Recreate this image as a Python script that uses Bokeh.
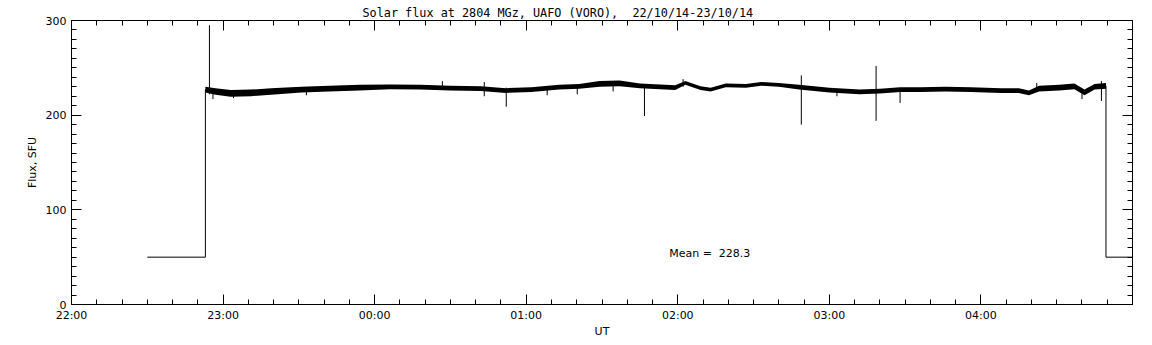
import pandas as pd
from bokeh.plotting import figure
from bokeh.models import (FixedTicker, DatetimeTickFormatter, LinearAxis, DatetimeAxis,
                          Range1d, Label, ColumnDataSource, CustomJSTickFormatter)
from bokeh.embed import file_html
from bokeh.resources import INLINE

# --- data (minutes after 22:00 UT on 22/10/14) ---
trace_min = [53, 57, 63, 71, 79, 91, 102, 114, 126, 138, 150, 162, 172, 182, 193, 201,
             209, 217, 225, 233, 239, 243, 249, 253, 259, 267, 273, 280, 288, 300, 312,
             320, 328, 336, 346, 356, 368, 375, 379, 383, 391, 397, 401, 405, 409.5]
trace_flux = [227, 225, 223, 223.5, 225, 227, 228, 229, 230, 229.5, 228.5, 228, 226, 227,
              229.5, 230.5, 233, 233.5, 231, 230, 229, 234, 228.5, 227, 231.5, 231, 233,
              232, 229.5, 226.5, 224.5, 225.5, 227, 227, 227.5, 227, 226, 226, 223.5, 228,
              229, 230.5, 224, 230, 231]
trace_noise = [3, 3.5, 3.5, 3.5, 3.5, 3, 3, 3, 2.5, 2.5, 2.5, 2.5, 2.5, 2.5, 2.5, 2.5, 3,
               3, 2.5, 2.5, 2.5, 2, 2, 2, 2, 2, 2, 2, 2.5, 2.5, 2.5, 2.5, 2.5, 2.5, 2.5,
               2.5, 2.5, 2.5, 2.5, 3, 3, 3, 3, 3, 3]

# calibration / gap levels before and after the observation
pre_min = [30, 53, 53]
pre_flux = [50, 50, 227]
post_min = [409.5, 409.5, 420]
post_flux = [231, 50, 50]

# spikes (minute, low, high)
spike_min = [54.6, 56, 64.1, 93.0, 146.8, 163.4, 172.1, 188.3, 200.2, 214.4, 226.8,
             242.1, 288.9, 303.0, 318.5, 328, 382.1, 400, 407.7]
spike_low = [222, 217, 218, 221, 228, 220, 209, 221, 222, 225, 199,
             230, 190, 220, 194, 213, 226, 217, 215]
spike_high = [295, 226, 226, 229, 236, 235, 229, 229, 231, 235, 231,
              238, 242, 228, 252, 228, 234, 226, 236]

mean_flux = 228.3
title = "Solar flux at 2804 MGz, UAFO (VORO),\u00a0 22/10/14-23/10/14"

base = pd.Timestamp("2014-10-22 22:00")
def t(mins):
    return [base + pd.Timedelta(minutes=m) for m in mins]

lo = [f - n for f, n in zip(trace_flux, trace_noise)]
hi = [f + n for f, n in zip(trace_flux, trace_noise)]

FONT = "DejaVu Sans"

p = figure(width=1152, height=345, x_axis_type="datetime", output_backend="svg",
           toolbar_location=None, x_axis_location=None, y_axis_location=None,
           x_range=Range1d(base, base + pd.Timedelta(hours=7)), y_range=Range1d(0, 300),
           min_border_left=71, min_border_right=20, min_border_top=20, min_border_bottom=41)
p.grid.visible = False
p.background_fill_color = "white"
p.border_fill_color = "white"
p.outline_line_color = "black"
p.outline_line_width = 1

p.title.text = title
p.title.align = "left"
p.title.offset = 291
p.title.text_font = "DejaVu Sans Mono"
p.title.text_font_size = "11.8px"
p.title.text_font_style = "normal"
p.title.text_color = "black"
p.title.standoff = 1

ms = lambda m: (base + pd.Timedelta(minutes=m)).value / 1e6
xt = FixedTicker(ticks=[ms(60 * h) for h in range(7)],
                 minor_ticks=[ms(10 * k) for k in range(43)])
yt = FixedTicker(ticks=[0, 100, 200, 300], minor_ticks=list(range(0, 301, 10)))
fmt = DatetimeTickFormatter(hours="%H:%M", minutes="%H:%M", hourmin="%H:%M",
                            days="%H:%M", minsec="%H:%M", seconds="%H:%M")
blank = CustomJSTickFormatter(code="return ''")

def style(ax, labels=True):
    ax.major_tick_in = 10
    ax.major_tick_out = 0
    ax.minor_tick_in = 5
    ax.minor_tick_out = 0
    ax.axis_line_color = "black"
    ax.major_tick_line_color = "black"
    ax.minor_tick_line_color = "black"
    ax.major_label_text_font = FONT
    ax.major_label_text_font_size = "11px"
    ax.major_label_text_color = "black"
    ax.axis_label_text_font = FONT
    ax.axis_label_text_font_size = "11px"
    ax.axis_label_text_font_style = "normal"
    ax.axis_label_text_color = "black"
    if not labels:
        ax.major_label_standoff = 0

bottom = DatetimeAxis(ticker=xt, formatter=fmt, axis_label="UT")
style(bottom)
bottom.major_label_standoff = 4
bottom.axis_label_standoff = 0
top = DatetimeAxis(ticker=xt, formatter=blank)
style(top, labels=False)
left = LinearAxis(ticker=yt, axis_label="Flux, SFU")
style(left)
left.major_label_standoff = 5
left.axis_label_standoff = 4
right = LinearAxis(ticker=yt, formatter=blank)
style(right, labels=False)
p.add_layout(bottom, "below")
p.add_layout(top, "above")
p.add_layout(left, "left")
p.add_layout(right, "right")

src = ColumnDataSource(dict(x=t(trace_min), y=trace_flux, lo=lo, hi=hi))
p.varea(x="x", y1="lo", y2="hi", source=src, fill_color="black")
p.line(x="x", y="y", source=src, line_color="black", line_width=1)
p.line(t(pre_min), pre_flux, line_color="black", line_width=1)
p.line(t(post_min), post_flux, line_color="black", line_width=1)
p.segment(x0=t(spike_min), y0=spike_low, x1=t(spike_min), y1=spike_high,
          line_color="black", line_width=1)

p.add_layout(Label(x=base + pd.Timedelta(minutes=236.6), y=54,
                   text="Mean =\u00a0 %.1f" % mean_flux, text_font=FONT,
                   text_font_size="11px", text_baseline="middle", text_color="black"))

open("out.html", "w").write(file_html(p, INLINE))
